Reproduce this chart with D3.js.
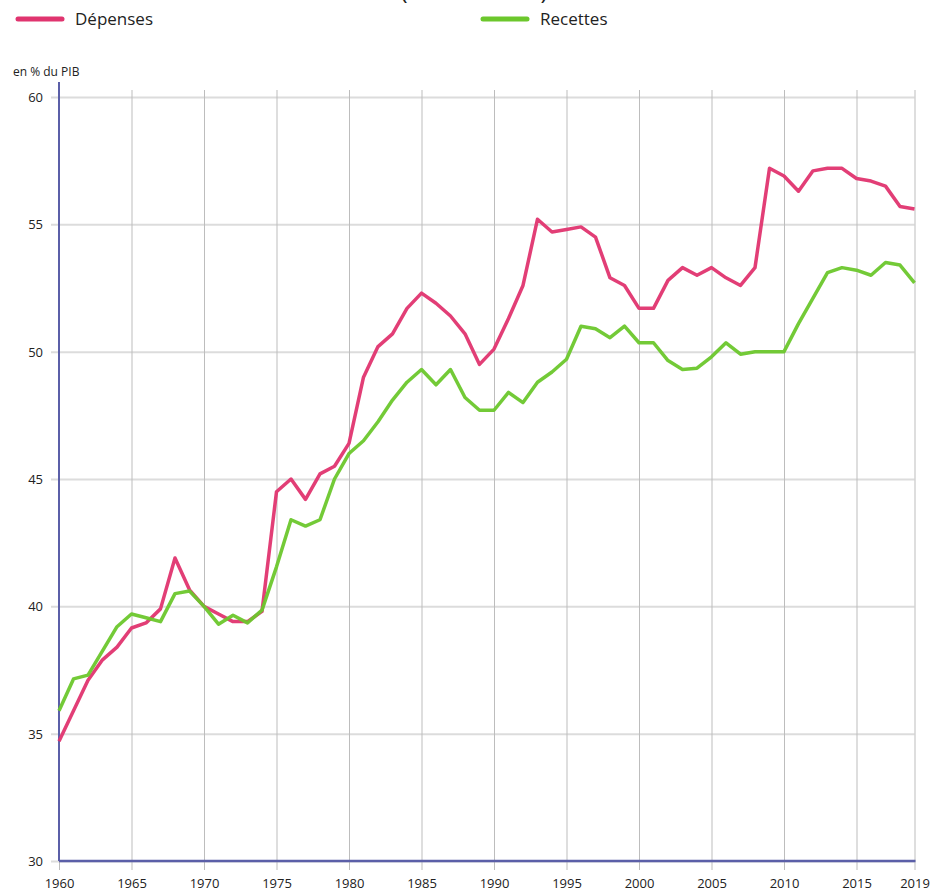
<!DOCTYPE html>
<html>
<head>
<meta charset="utf-8">
<script src="https://cdn.jsdelivr.net/npm/d3@7"></script>
<style>
  body { margin: 0; background: #fff; }
  text { font-family: "Open Sans", sans-serif; fill: #222; }
</style>
</head>
<body>
<script>
// données : années et séries en % du PIB
const years = d3.range(1960, 2020);
const depenses = [34.7, 35.9, 37.1, 37.9, 38.4, 39.15, 39.35, 39.9, 41.9, 40.65,
  40.0, 39.7, 39.4, 39.4, 39.8, 44.5, 45.0, 44.2, 45.2, 45.5,
  46.4, 49.0, 50.2, 50.7, 51.7, 52.3, 51.9, 51.4, 50.7, 49.5,
  50.1, 51.3, 52.6, 55.2, 54.7, 54.8, 54.9, 54.5, 52.9, 52.6,
  51.7, 51.7, 52.8, 53.3, 53.0, 53.3, 52.9, 52.6, 53.3, 57.2,
  56.9, 56.3, 57.1, 57.2, 57.2, 56.8, 56.7, 56.5, 55.7, 55.6];
const recettes = [35.9, 37.15, 37.3, 38.25, 39.2, 39.7, 39.55, 39.4, 40.5, 40.6,
  40.0, 39.3, 39.65, 39.35, 39.85, 41.55, 43.4, 43.15, 43.4, 45.0,
  46.0, 46.5, 47.25, 48.1, 48.8, 49.3, 48.7, 49.3, 48.2, 47.7,
  47.7, 48.4, 48.0, 48.8, 49.2, 49.7, 51.0, 50.9, 50.55, 51.0,
  50.35, 50.35, 49.65, 49.3, 49.35, 49.8, 50.35, 49.9, 50.0, 50.0,
  50.0, 51.1, 52.1, 53.1, 53.3, 53.2, 53.0, 53.5, 53.4, 52.7];
const xTicks = [1960, 1965, 1970, 1975, 1980, 1985, 1990, 1995, 2000, 2005, 2010, 2015, 2019];
const yTicks = [30, 35, 40, 45, 50, 55, 60];
const series = [
  {name: 'Dépenses', values: depenses, color: '#e0346f'},
  {name: 'Recettes', values: recettes, color: '#6cc72c'}
];

const width = 934, height = 895;
const mLeft = 59, mRight = 914.5, mTop = 97, mBottom = 861;

const svg = d3.select('body').append('svg')
  .attr('width', width)
  .attr('height', height);

const x = d3.scaleLinear().domain([1960, 2019]).range([mLeft, mRight]);
const y = d3.scaleLinear().domain([30, 60]).range([mBottom, mTop]);

// titre (coupé en haut)
svg.append('text')
  .attr('x', 474).attr('y', -1)
  .attr('text-anchor', 'middle')
  .style('font-size', '24px')
  .text('(en % du PIB)');

// grille horizontale
svg.append('g')
  .attr('transform', 'translate(' + mLeft + ',0)')
  .call(d3.axisLeft(y).tickValues(yTicks).tickSize(-(mRight - mLeft)).tickSizeOuter(0).tickPadding(16))
  .call(g => g.select('.domain').remove())
  .call(g => g.selectAll('.tick line').attr('stroke', '#dcdcdc').attr('stroke-width', 2).attr('x1', -8))
  .call(g => g.selectAll('.tick text').style('font-size', '13px').attr('dy', '0.35em'));

// grille verticale
svg.append('g')
  .attr('transform', 'translate(0,' + mBottom + ')')
  .call(d3.axisBottom(x).tickValues(xTicks).tickFormat(d3.format('d')).tickSize(-(mBottom - 90)).tickSizeOuter(0).tickPadding(18))
  .call(g => g.select('.domain').remove())
  .call(g => g.selectAll('.tick line').attr('stroke', '#bdbdbd').attr('stroke-width', 1).attr('y1', 9))
  .call(g => g.selectAll('.tick text').style('font-size', '13px'));

// axes
svg.append('line')
  .attr('x1', mLeft).attr('x2', mLeft).attr('y1', 82).attr('y2', mBottom)
  .attr('stroke', '#5b5fa8').attr('stroke-width', 2);
svg.append('line')
  .attr('x1', mLeft).attr('x2', mRight + 1).attr('y1', mBottom).attr('y2', mBottom)
  .attr('stroke', '#5b5fa8').attr('stroke-width', 2.5);

svg.append('text')
  .attr('x', 13).attr('y', 76)
  .style('font-size', '12px')
  .text('en % du PIB');

// courbes
const line = d3.line()
  .x((d, i) => x(years[i]))
  .y(d => y(d));

svg.selectAll('.serie')
  .data(series)
  .enter().append('path')
  .attr('class', 'serie')
  .attr('d', d => line(d.values))
  .attr('fill', 'none')
  .attr('stroke', d => d.color)
  .attr('stroke-width', 3.5)
  .attr('stroke-linejoin', 'round')
  .attr('opacity', 0.95);

// légende
const legendX = [18, 483];
const legend = svg.selectAll('.legend')
  .data(series)
  .enter().append('g')
  .attr('class', 'legend')
  .attr('transform', (d, i) => 'translate(' + legendX[i] + ', 19)');
legend.append('line')
  .attr('x1', 0).attr('x2', 44)
  .attr('stroke', d => d.color)
  .attr('stroke-width', 5)
  .attr('stroke-linecap', 'round');
legend.append('text')
  .attr('x', 57).attr('y', 6)
  .style('font-size', '17px')
  .text(d => d.name);
</script>
</body>
</html>
